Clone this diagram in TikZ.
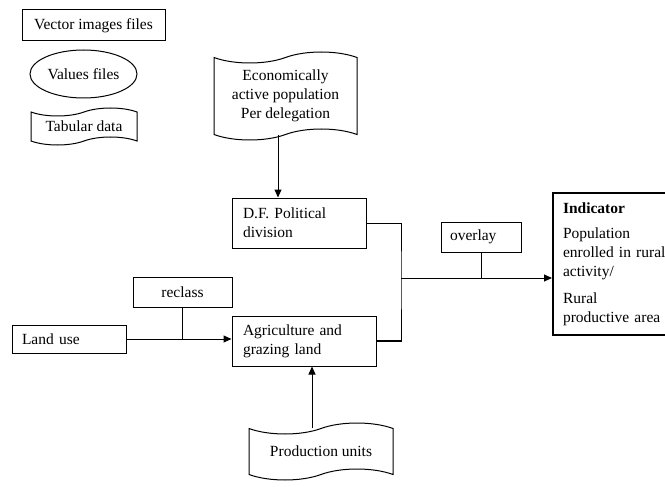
\documentclass[tikz,border=0pt]{standalone}
\usepackage{fontspec}
\setmainfont{Liberation Serif}
\usetikzlibrary{shapes.geometric,shapes.symbols,arrows.meta}

\begin{document}
\begin{tikzpicture}[x=1pt,y=-1pt,
    font=\fontsize{15.5}{19}\selectfont,
    box/.style={draw,line width=1pt,inner sep=0pt},
    leftbox/.style={draw,line width=1pt,inner ysep=0pt,align=left},
    doc/.style={draw,line width=1pt,tape,tape bend height=11pt,inner sep=0pt,align=center},
    flow/.style={line width=1pt,-{Triangle[length=8pt,width=7pt]}}]
    \clip (0,0) rectangle (665,487);
    % legend
    \node[box,minimum width=143pt,minimum height=31pt] (vec) at (93.5,25.5) {Vector images files};
    \node[box,ellipse,minimum width=107pt,minimum height=48pt] (val) at (83.5,74) {Values files};
    \node[doc,tape bend height=8pt,minimum width=106pt,minimum height=37pt] (tab) at (84,126.5) {Tabular data};
    % inputs
    \node[doc,minimum width=143pt,minimum height=88pt] (econ) at (285.5,96)
      {Economically\\ active population\\ Per delegation};
    \node[leftbox,inner xsep=11pt,text width=112pt,minimum height=50pt] (dfp) at (299,223)
      {D.F. Political\\ division};
    \node[leftbox,inner xsep=11pt,text width=122pt,minimum height=50pt] (agri) at (304,341)
      {Agriculture and\\ grazing land};
    \node[leftbox,inner xsep=10pt,text width=94pt,minimum height=28pt] (land) at (69,339) {Land use};
    \node[box,minimum width=99pt,minimum height=30pt] (recl) at (182.5,292) {reclass};
    \node[leftbox,inner xsep=9pt,text width=62pt,minimum height=30pt] (over) at (481,237) {overlay};
    \node[doc,minimum width=144pt,minimum height=57pt] (prod) at (321,451.5) {Production units};
    % result
    \node[draw,line width=2pt,anchor=north west,inner xsep=10pt,inner ysep=0pt,
      text width=110pt,minimum height=142pt,align=left] (ind) at (552,192)
      {\textbf{Indicator}\\[6pt] Population\\ enrolled in rural\\ activity/\\[8pt] Rural\\ productive area};
    % connectors
    \coordinate (jn) at (401,278);
    \draw[flow] ([xshift=-7.5pt]econ.south) -- ([xshift=-7.5pt]econ.south |- dfp.north);
    \draw[flow] (land.east) -- (land.east -| agri.west);
    \draw[line width=1pt] (recl.south) -- (recl.south |- land.east);
    \draw[flow] ([xshift=-9pt]prod.north) -- ([xshift=-9pt]prod.north |- agri.south);
    \draw[line width=1pt] (dfp.east) -| (jn) |- (agri.east);
    \draw[line width=2pt] (agri.east) -- (agri.east -| jn);
    \draw[line width=1pt] (over.south) -- (over.south |- jn);
    \draw[flow] (jn) -- (jn -| ind.west);
\end{tikzpicture}
\end{document}
